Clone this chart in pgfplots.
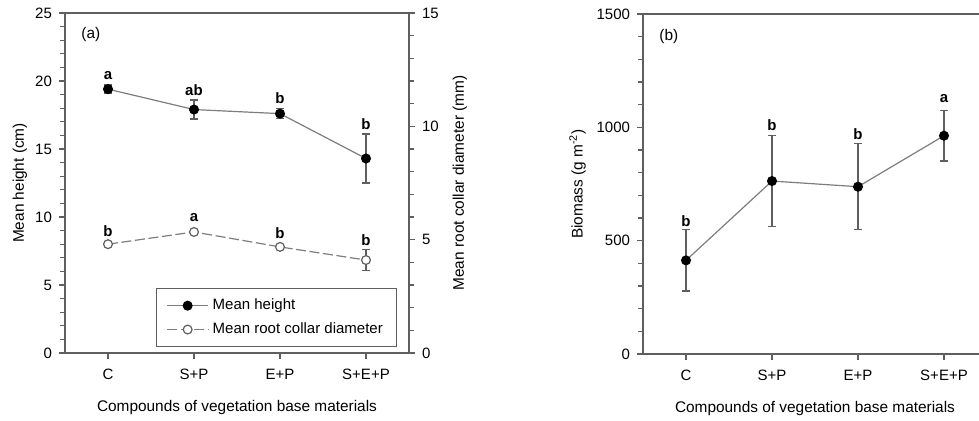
\documentclass[border=0pt]{standalone}
\usepackage{fontspec}
\setmainfont{Liberation Sans}
\usepackage{pgfplots}
\pgfplotsset{compat=1.18}

\definecolor{linegray}{RGB}{125,125,125}
\definecolor{axgray}{RGB}{95,95,95}

\pgfplotsset{
  panel/.style={
    scale only axis, width=172pt, height=170pt,
    xmin=-0.5, xmax=3.5,
    xtick={0,1,2,3}, xticklabels={C,S+P,E+P,S+E+P},
    tick align=outside,
    major tick length=3pt,
    axis line style={axgray, line width=0.6pt},
    every tick/.style={axgray, line width=0.6pt},
    tick label style={font=\fontsize{7.5}{9}\selectfont},
    xticklabel style={yshift=-1.5pt},
    label style={font=\fontsize{7.7}{9}\selectfont},
    /pgf/number format/assume math mode=true,
    /pgf/number format/1000 sep={},
    xtick pos=bottom, ytick pos=left,
    extra y tick labels={},
    extra y tick style={major tick length=2.4pt, tick align=outside},
    legend image code/.code={%
      \draw[mark repeat=2,mark phase=2,##1] plot coordinates {(0cm,0cm) (0.36cm,0cm) (0.72cm,0cm)};},
  },
  series/.style={linegray, line width=0.6pt, mark=*, mark size=2.2pt,
    mark options={black, fill=black, solid},
    error bars/y dir=both, error bars/y explicit,
    error bars/error bar style={axgray, line width=0.6pt, solid},
    error bars/error mark options={rotate=90, mark size=2pt, axgray, line width=0.6pt},
  },
}
\tikzset{letter/.style={font=\fontsize{7.5}{9}\selectfont\bfseries}}

\begin{document}
\begin{tikzpicture}
% panel (a): mean height, left axis
\begin{axis}[panel, at={(32.5pt,34pt)}, anchor=south west,
  ymin=0, ymax=25, ytick={0,5,10,15,20,25},
  extra y ticks={1,2,3,4,6,7,8,9,11,12,13,14,16,17,18,19,21,22,23,24},
  xlabel={Compounds of vegetation base materials},
  ylabel={Mean height (cm)},
  xlabel style={at={(axis description cs:0.5,-0.159)}, anchor=center},
  ylabel style={at={(axis description cs:-0.131,0.5)}, anchor=center},
]
\addplot[series] coordinates {
  (0,19.4) +- (0,0.3)
  (1,17.9) +- (0,0.7)
  (2,17.6) +- (0,0.35)
  (3,14.3) +- (0,1.8)
};
\node[letter] at (axis cs:0,20.4) {a};
\node[letter] at (axis cs:1,19.3) {ab};
\node[letter] at (axis cs:2,18.75) {b};
\node[letter] at (axis cs:3,16.8) {b};
\node[font=\fontsize{7.7}{9}\selectfont] at (axis cs:-0.2,23.4) {(a)};
\end{axis}
% panel (a): root collar diameter, right axis
\begin{axis}[panel, at={(32.5pt,34pt)}, anchor=south west,
  axis x line=none, axis y line*=right, ytick pos=right,
  ymin=0, ymax=15, ytick={0,5,10,15},
  extra y ticks={1,2,3,4,6,7,8,9,11,12,13,14},
  ylabel={Mean root collar diameter (mm)},
  ylabel style={at={(axis description cs:1.148,0.5)}, anchor=center},
  legend style={at={(0.265,0.018)}, anchor=south west, draw=axgray,
    font=\fontsize{7.5}{9}\selectfont, inner xsep=5pt, inner ysep=3pt,
    row sep=1pt},
  legend cell align=left,
]
\addlegendimage{linegray, line width=0.6pt, mark=*, mark size=2.2pt, mark options={black, fill=black}}
\addlegendentry{Mean height}
\addplot[series, dash pattern=on 5pt off 1.8pt,
  mark options={axgray, fill=white, solid}] coordinates {
  (0,4.8) +- (0,0.08)
  (1,5.34) +- (0,0.12)
  (2,4.68) +- (0,0.08)
  (3,4.1) +- (0,0.46)
};
\addlegendentry{Mean root collar diameter}
\node[letter] at (axis cs:0,5.38) {b};
\node[letter] at (axis cs:1,5.96) {a};
\node[letter] at (axis cs:2,5.29) {b};
\node[letter] at (axis cs:3,4.98) {b};
\end{axis}
% panel (b): biomass
\begin{axis}[panel, at={(321.5pt,33.5pt)}, anchor=south west,
  ymin=0, ymax=1500, ytick={0,500,1000,1500},
  extra y ticks={100,200,300,400,600,700,800,900,1100,1200,1300,1400},
  xlabel={Compounds of vegetation base materials},
  ylabel={Biomass (g m\textsuperscript{-2})},
  xlabel style={at={(axis description cs:0.5,-0.159)}, anchor=center},
  ylabel style={at={(axis description cs:-0.19,0.5)}, anchor=center},
]
\addplot[series] coordinates {
  (0,413) +- (0,135)
  (1,763) +- (0,200)
  (2,738) +- (0,190)
  (3,963) +- (0,112)
};
\node[letter] at (axis cs:0,588) {b};
\node[letter] at (axis cs:1,1008) {b};
\node[letter] at (axis cs:2,972) {b};
\node[letter] at (axis cs:3,1126) {a};
\node[font=\fontsize{7.7}{9}\selectfont] at (axis cs:-0.2,1399) {(b)};
\end{axis}
\pgfresetboundingbox
\useasboundingbox (0,0) rectangle (489.5pt,210.5pt);
\end{tikzpicture}
\end{document}
